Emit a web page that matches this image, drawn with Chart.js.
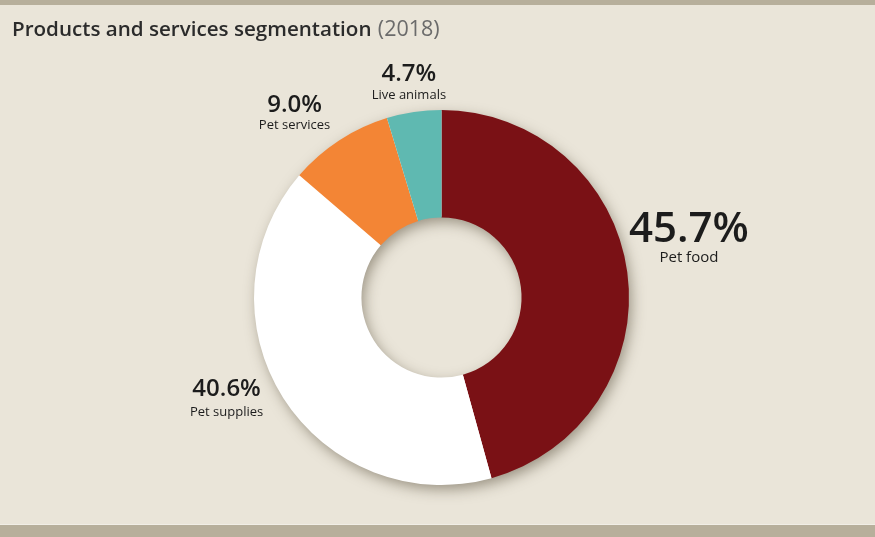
<!DOCTYPE html>
<html>
<head>
<meta charset="utf-8">
<script src="https://cdn.jsdelivr.net/npm/chart.js@4/dist/chart.umd.min.js"></script>
<style>
  html, body { margin: 0; padding: 0; background: #eae5d9; }
  #wrap { width: 875px; height: 537px; position: relative; }
</style>
</head>
<body>
<div id="wrap"><canvas id="c" width="875" height="537"></canvas></div>
<script>
// ---- data ----
const categories = ['Pet food', 'Pet supplies', 'Pet services', 'Live animals'];
const shares = [45.7, 40.6, 9.0, 4.7];
const titleMain = 'Products and services segmentation';
const titleYear = '(2018)';

// ---- styles ----
const sliceColors = ['#7a1115', '#ffffff', '#f38535', '#5fb9b1'];
const bgColor = '#eae5d9';
const barColor = '#b7af9b';
// label placement: angle (deg, clockwise from top), distance as multiple of outer radius,
// percent font size, sub label font size, sub label offset
const labelStyle = [
  { angle: 74.7, dist: 1.368, big: 42, small: 15, gap: 28 },
  { angle: 246.8, dist: 1.247, big: 24, small: 13, gap: 23 },
  { angle: 322.6, dist: 1.29, big: 24, small: 13, gap: 20 },
  { angle: 351.7, dist: 1.205, big: 24, small: 13, gap: 21 }
];
const FONT = '"Open Sans", "Noto Sans", sans-serif';

const backgroundPlugin = {
  id: 'bgPlugin',
  beforeDraw(chart) {
    const ctx = chart.ctx;
    ctx.save();
    ctx.fillStyle = bgColor;
    ctx.fillRect(0, 0, chart.width, chart.height);
    ctx.fillStyle = barColor;
    ctx.fillRect(0, 0, chart.width, 5);
    ctx.fillRect(0, 525, chart.width, chart.height - 525);
    ctx.fillStyle = 'rgba(255,255,255,0.35)';
    ctx.fillRect(0, 524, chart.width, 1);
    // title
    ctx.textBaseline = 'alphabetic';
    ctx.textAlign = 'left';
    ctx.font = '600 20.6px ' + FONT;
    ctx.fillStyle = '#2b2b2b';
    ctx.fillText(titleMain, 12, 36);
    const w = ctx.measureText(titleMain + ' ').width;
    ctx.font = '400 21.5px ' + FONT;
    ctx.fillStyle = '#6b6b6b';
    ctx.fillText(titleYear, 12 + w + 1, 36);
    ctx.restore();
  }
};

const shadowPlugin = {
  id: 'ringShadow',
  beforeDatasetsDraw(chart) {
    const meta = chart.getDatasetMeta(0);
    const el = meta.data[0];
    if (!el) return;
    const { x, y, innerRadius, outerRadius } = el.getProps(['x', 'y', 'innerRadius', 'outerRadius'], true);
    const ctx = chart.ctx;
    ctx.save();
    ctx.shadowColor = 'rgba(70,60,40,0.5)';
    ctx.shadowBlur = 14;
    ctx.shadowOffsetX = 3;
    ctx.shadowOffsetY = 5;
    ctx.beginPath();
    ctx.arc(x, y, outerRadius - 1, 0, Math.PI * 2);
    ctx.arc(x, y, innerRadius + 1, Math.PI * 2, 0, true);
    ctx.closePath();
    ctx.fillStyle = '#ffffff';
    ctx.fill('evenodd');
    ctx.restore();
  }
};

const labelPlugin = {
  id: 'sliceLabels',
  afterDatasetsDraw(chart) {
    const meta = chart.getDatasetMeta(0);
    const ctx = chart.ctx;
    ctx.save();
    ctx.textAlign = 'center';
    ctx.textBaseline = 'middle';
    ctx.fillStyle = '#1c1c1c';
    meta.data.forEach((arc, i) => {
      const { x, y, outerRadius } = arc.getProps(['x', 'y', 'outerRadius'], true);
      const s = labelStyle[i];
      const a = s.angle * Math.PI / 180;
      const lx = x + Math.sin(a) * outerRadius * s.dist;
      const ly = y - Math.cos(a) * outerRadius * s.dist;
      ctx.font = '600 ' + s.big + 'px ' + FONT;
      ctx.fillText(shares[i].toFixed(1) + '%', lx, ly);
      ctx.font = '500 ' + s.small + 'px ' + FONT;
      ctx.fillText(categories[i], lx, ly + s.gap);
    });
    ctx.restore();
  }
};

new Chart(document.getElementById('c'), {
  type: 'doughnut',
  data: {
    labels: categories,
    datasets: [{
      data: shares,
      backgroundColor: sliceColors,
      borderWidth: 0,
      hoverOffset: 0
    }]
  },
  options: {
    responsive: false,
    animation: false,
    cutout: '42.7%',
    rotation: 0,
    layout: { padding: { top: 110, bottom: 52, left: 254, right: 246 } },
    plugins: {
      legend: { display: false },
      tooltip: { enabled: false },
      title: { display: false }
    }
  },
  plugins: [backgroundPlugin, shadowPlugin, labelPlugin]
});
</script>
</body>
</html>
